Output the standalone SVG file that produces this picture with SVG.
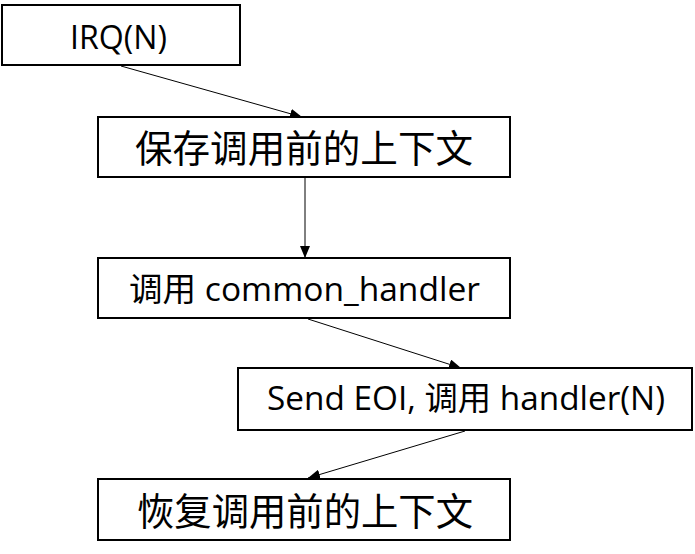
<svg xmlns="http://www.w3.org/2000/svg" width="695" height="554" viewBox="0 0 695 554">
<style>
.box{fill:#fff;stroke:#000;stroke-width:2}
.t{font-family:"Open Sans","Noto Sans CJK SC",sans-serif;font-size:33px;fill:#000}
.c{font-family:"Noto Sans CJK SC",sans-serif;font-size:38px;fill:#000}
.con{stroke:#000;stroke-width:1;fill:none;marker-end:url(#ah)}
</style>
<defs>
<marker id="ah" markerUnits="userSpaceOnUse" markerWidth="12" markerHeight="10" refX="12" refY="5" orient="auto">
<path d="M0,0 L12,5 L0,10 z" fill="#000"/>
</marker>
</defs>
<rect width="695" height="554" fill="#fff"/>
<g id="connectors">
<line class="con" x1="121" y1="66" x2="302" y2="117"/>
<line class="con" x1="305" y1="178" x2="305" y2="258"/>
<line class="con" x1="308" y1="319" x2="461" y2="368"/>
<line class="con" x1="465" y1="431" x2="308" y2="478"/>
</g>
<g id="n1">
<rect class="box" x="2" y="5" width="238" height="60"/>
<text class="t" x="70" y="49" textLength="97" lengthAdjust="spacingAndGlyphs">IRQ(N)</text>
</g>
<g id="n2">
<rect class="box" x="98" y="117" width="412" height="60"/>
<text class="c" x="135" y="162" textLength="338" lengthAdjust="spacingAndGlyphs">保存调用前的上下文</text>
</g>
<g id="n3">
<rect class="box" x="98" y="258" width="412" height="60"/>
<text class="t" x="129" y="301" textLength="351" lengthAdjust="spacingAndGlyphs">调用 common_handler</text>
</g>
<g id="n4">
<rect class="box" x="238" y="368" width="454" height="62"/>
<text class="t" x="267" y="410" textLength="398" lengthAdjust="spacingAndGlyphs">Send EOI, 调用 handler(N)</text>
</g>
<g id="n5">
<rect class="box" x="98" y="479" width="412" height="61"/>
<text class="c" x="137" y="525" textLength="336" lengthAdjust="spacingAndGlyphs">恢复调用前的上下文</text>
</g>
</svg>
